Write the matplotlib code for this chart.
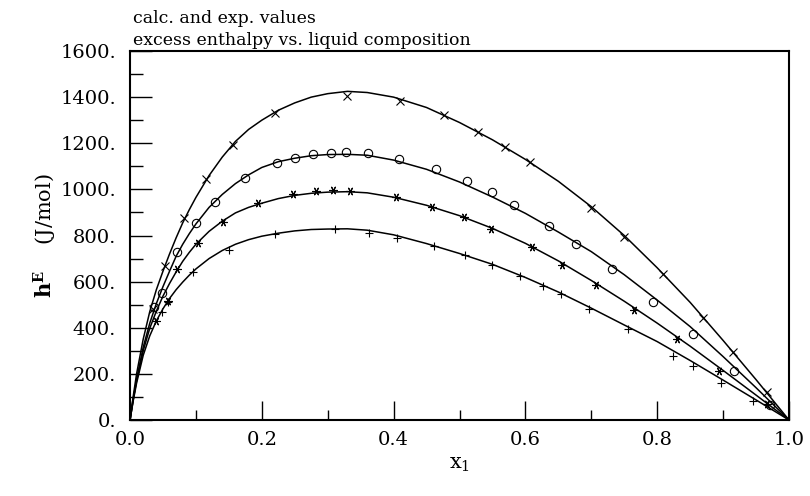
import matplotlib
matplotlib.use("Agg")
import matplotlib.pyplot as plt
from matplotlib.ticker import MultipleLocator, FixedLocator, FixedFormatter

plt.rcParams['font.family'] = ['DejaVu Serif']
plt.rcParams['mathtext.fontset'] = 'dejavuserif'

# ---- data ----
# calculated curves: x positions and hE values
curve_x = [0.0, 0.005, 0.01, 0.02, 0.03, 0.04, 0.05, 0.06, 0.07, 0.08, 0.09, 0.1,
           0.12, 0.14, 0.16, 0.18, 0.2, 0.225, 0.25, 0.275, 0.3, 0.33, 0.36, 0.4,
           0.45, 0.5, 0.55, 0.6, 0.65, 0.7, 0.75, 0.8, 0.85, 0.9, 0.95, 1.0]
calc1 = [0, 105, 200, 350, 470, 565, 645, 720, 790, 855, 912, 965,
         1060, 1140, 1208, 1260, 1300, 1343, 1375, 1400, 1415, 1425, 1420, 1400,
         1355, 1290, 1215, 1130, 1035, 925, 800, 660, 510, 345, 175, 0]
calc2 = [0, 92, 175, 315, 420, 505, 578, 645, 710, 762, 808, 850,
         922, 978, 1025, 1063, 1095, 1120, 1135, 1146, 1151, 1152, 1148, 1127,
         1087, 1032, 967, 896, 815, 730, 630, 520, 405, 275, 140, 0]
calc3 = [0, 90, 170, 300, 398, 472, 537, 592, 642, 688, 727, 762,
         818, 862, 898, 922, 940, 960, 974, 983, 988, 990, 985, 966,
         931, 886, 831, 766, 690, 605, 515, 420, 320, 215, 108, 0]
calc4 = [0, 85, 160, 280, 365, 430, 482, 527, 565, 598, 628, 655,
         700, 735, 762, 782, 797, 810, 820, 826, 828, 829, 823, 803,
         765, 722, 675, 618, 555, 485, 412, 340, 258, 173, 87, 0]

# experimental points
exp1_x = [0.035, 0.053, 0.082, 0.115, 0.156, 0.220, 0.329, 0.410, 0.476, 0.528,
          0.569, 0.607, 0.700, 0.750, 0.809, 0.870, 0.915, 0.967]
exp1_y = [480, 668, 876, 1045, 1192, 1331, 1405, 1383, 1322, 1249,
          1184, 1119, 919, 794, 633, 442, 295, 121]

exp2_x = [0.036, 0.049, 0.071, 0.100, 0.129, 0.175, 0.223, 0.250, 0.278, 0.305,
          0.328, 0.361, 0.408, 0.464, 0.511, 0.549, 0.583, 0.636, 0.677, 0.731,
          0.794, 0.854, 0.917, 0.971]
exp2_y = [490, 551, 728, 854, 945, 1049, 1114, 1136, 1153, 1158,
          1162, 1158, 1132, 1088, 1036, 989, 932, 841, 763, 655,
          512, 373, 212, 65]

exp3_x = [0.040, 0.058, 0.071, 0.103, 0.141, 0.194, 0.247, 0.282, 0.308, 0.334,
          0.404, 0.458, 0.507, 0.548, 0.610, 0.656, 0.707, 0.765, 0.830, 0.894,
          0.967]
exp3_y = [430, 516, 655, 767, 859, 941, 980, 993, 997, 993,
          967, 924, 880, 828, 750, 672, 585, 477, 351, 212,
          69]

exp4_x = [0.049, 0.058, 0.096, 0.150, 0.220, 0.311, 0.363, 0.405, 0.461, 0.508,
          0.549, 0.592, 0.627, 0.654, 0.697, 0.756, 0.824, 0.854, 0.897, 0.945]
exp4_y = [468, 512, 642, 737, 806, 828, 811, 789, 754, 715,
          672, 624, 581, 546, 481, 395, 278, 234, 160, 82]

y_ticks = [0, 200, 400, 600, 800, 1000, 1200, 1400, 1600]
y_tick_labels = ['0.', '200.', '400.', '600.', '800.', '1000.', '1200.', '1400.', '1600.']
x_ticks = [0.0, 0.2, 0.4, 0.6, 0.8, 1.0]
x_tick_labels = ['0.0', '0.2', '0.4', '0.6', '0.8', '1.0']

# ---- figure ----
fig = plt.figure(figsize=(8.10, 4.96), dpi=100)
ax = fig.add_axes([130/810, 1 - 420/496, (789-130)/810, (420-51)/496])

for cy in (calc1, calc2, calc3, calc4):
    ax.plot(curve_x, cy, color='black', lw=1.1, solid_joinstyle='round')

ms = 6
mw = 0.8
ax.plot(exp1_x, exp1_y, ls='none', marker='x', ms=ms, mew=mw, color='black')
ax.plot(exp2_x, exp2_y, ls='none', marker='o', ms=ms, mew=mw, mfc='none', color='black')
ax.plot(exp3_x, exp3_y, ls='none', marker=(6, 2, 30), ms=ms, mew=mw, color='black')
ax.plot(exp4_x, exp4_y, ls='none', marker='+', ms=ms, mew=mw, color='black')

ax.set_xlim(0, 1.0)
ax.set_ylim(0, 1600)

ax.yaxis.set_major_locator(FixedLocator(y_ticks))
ax.yaxis.set_major_formatter(FixedFormatter(y_tick_labels))
ax.yaxis.set_minor_locator(MultipleLocator(100))
ax.xaxis.set_major_locator(FixedLocator(x_ticks))
ax.xaxis.set_major_formatter(FixedFormatter(x_tick_labels))
ax.xaxis.set_minor_locator(MultipleLocator(0.1))

ax.tick_params(axis='y', which='major', direction='in', length=16, width=1.0,
               labelsize=14, pad=10)
ax.tick_params(axis='y', which='minor', direction='in', length=9, width=1.0)
ax.tick_params(axis='x', which='major', direction='in', length=14, width=1.0,
               labelsize=14, pad=8)
ax.tick_params(axis='x', which='minor', direction='in', length=7, width=1.0)

for sp in ax.spines.values():
    sp.set_linewidth(1.5)

ax.set_xlabel(r'x$_1$', fontsize=15, labelpad=4)
ax.set_ylabel(r'$\mathbf{h^E}$    (J/mol)', fontsize=15, labelpad=1)

fig.text(133/810, 1 - 23/496, 'calc. and exp. values', fontsize=12.5,
         ha='left', va='baseline')
fig.text(133/810, 1 - 45/496, 'excess enthalpy vs. liquid composition', fontsize=12.5,
         ha='left', va='baseline')

fig.savefig('out.png', dpi=100)
